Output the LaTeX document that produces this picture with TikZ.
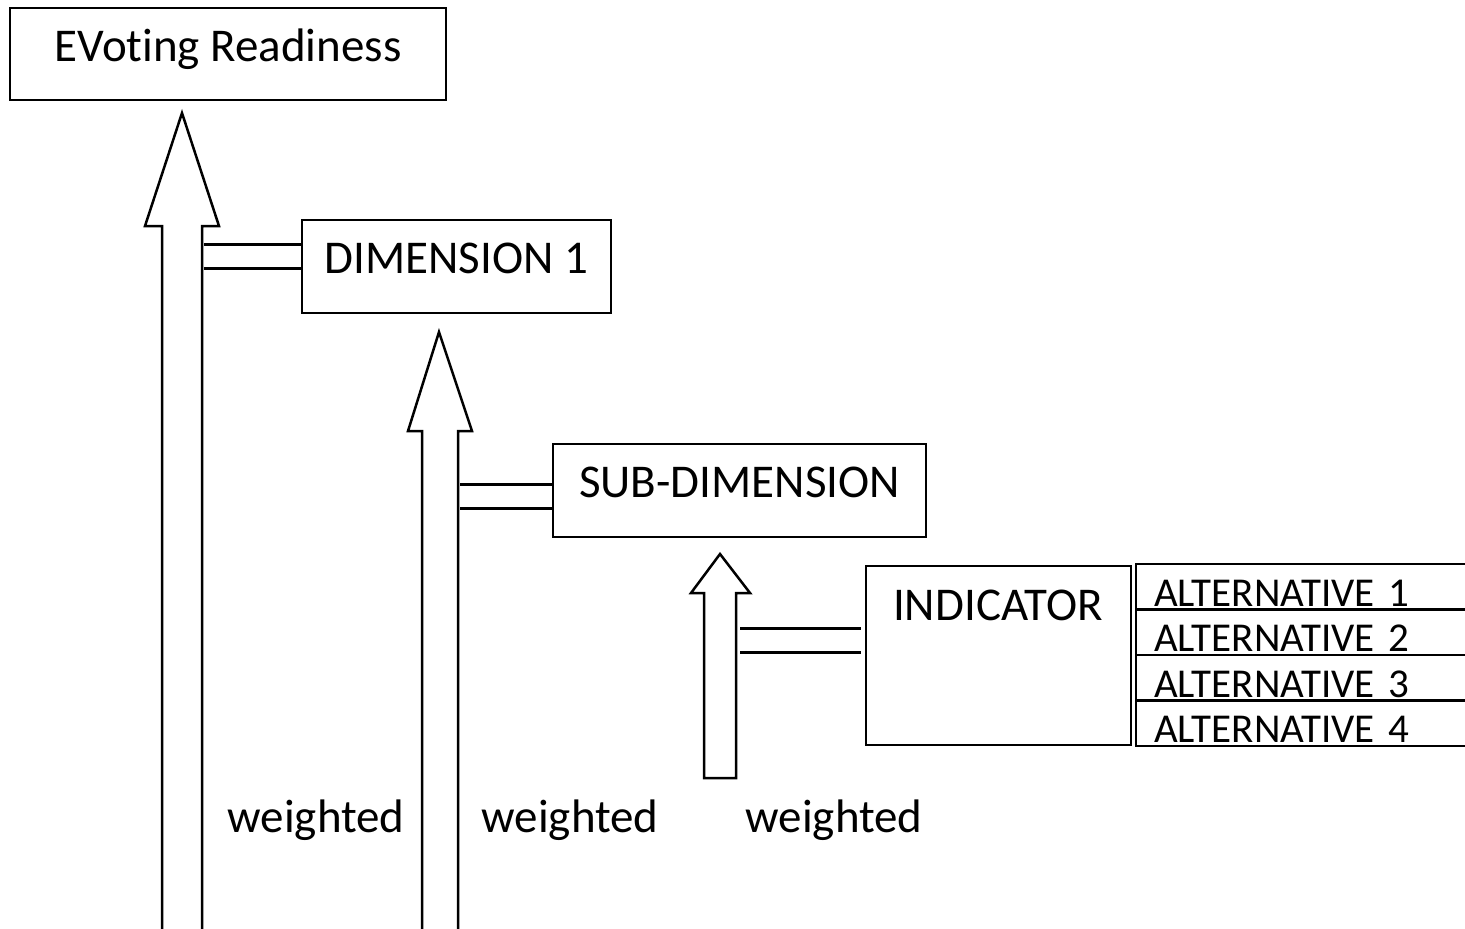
\documentclass[tikz,border=0pt]{standalone}
\usepackage{fontspec}
\setmainfont{Carlito}[Ligatures={NoCommon,NoContextual,NoRare}]
\usetikzlibrary{positioning}
\begin{document}
\begin{tikzpicture}[x=0.5pt,y=-0.5pt]
\tikzstyle{box}=[draw,line width=1.35pt,inner sep=0pt,text height=11pt,text depth=4pt,font=\fontsize{23.5}{28}\selectfont]
\tikzstyle{alt}=[draw,line width=1.35pt,outer sep=0pt,inner xsep=9pt,inner ysep=0pt,text width=154pt,align=left,text height=21pt,text depth=1.75pt,font=\fontsize{20.5}{24}\selectfont]
\tikzstyle{bigarrow}=[draw,line width=1.25pt,line join=miter]
\tikzstyle{link}=[line width=1.5pt]
\tikzstyle{lbl}=[font=\fontsize{23.5}{28}\selectfont]
    \useasboundingbox (0,0) rectangle (1465,928);
    % boxes
    \node[box,minimum width=218pt,minimum height=46pt] (ev) at (228,54) {EVot\kern0pt ing Readiness};
    \node[box,minimum width=154.5pt,minimum height=46.5pt] (dim) at (456.5,266.5) {DIMENSION 1};
    \node[box,minimum width=186.5pt,minimum height=46.5pt] (sub) at (739.5,490.5) {SUB-DIMENSION};
    \node[box,minimum width=132.5pt,minimum height=89.5pt] (ind) at (998.5,655.5) {};
    \node[lbl,anchor=base] (indtxt) at (998,620) {INDICATOR};
    % alternatives
    \node[alt,anchor=north west] (alt1) at (1136,564) {ALTERNATIVE 1};
    \node[alt,below=0pt of alt1] (alt2) {ALTERNATIVE 2};
    \node[alt,below=0pt of alt2] (alt3) {ALTERNATIVE 3};
    \node[alt,below=0pt of alt3] (alt4) {ALTERNATIVE 4};
    % block arrows
    \draw[bigarrow] (162,935) -- (162,226) -- (145,226) -- (182,113) -- (219,226) -- (202,226) -- (202,935);
    \draw[bigarrow] (422,935) -- (422,431) -- (408,431) -- (439,332) -- (472,431) -- (458,431) -- (458,935);
    \draw[bigarrow] (704,778) -- (704,593) -- (691,593) -- (720,554) -- (750,593) -- (736,593) -- (736,778) -- cycle;
    % double links
    \coordinate (a1) at (204,244);
    \coordinate (b1) at (204,268);
    \coordinate (a2) at (460,484);
    \coordinate (b2) at (460,508);
    \coordinate (a3) at (740,628);
    \coordinate (b3) at (740,652);
    \draw[link] (a1) -- (a1 -| dim.west);
    \draw[link] (b1) -- (b1 -| dim.west);
    \draw[link] (a2) -- (a2 -| sub.west);
    \draw[link] (b2) -- (b2 -| sub.west);
    \draw[link] (a3) -- (861,628);
    \draw[link] (b3) -- (861,652);
    % weights
    \node[lbl] (w1) at (316,820) {weighted};
    \node[lbl] (w2) at (570,820) {weighted};
    \node[lbl] (w3) at (834,820) {weighted};
\end{tikzpicture}
\end{document}
